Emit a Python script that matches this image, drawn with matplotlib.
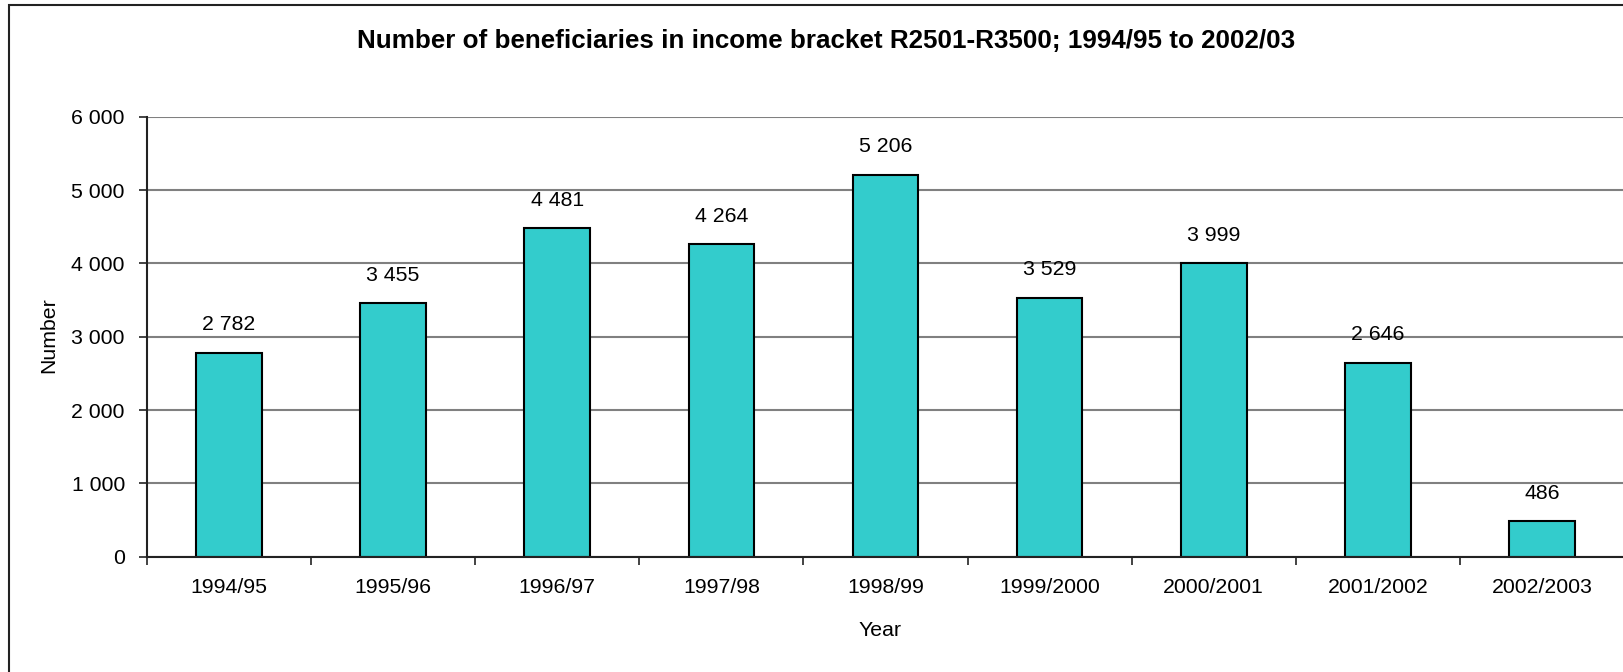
import matplotlib
matplotlib.use("Agg")
import matplotlib.pyplot as plt
from matplotlib.patches import Rectangle
from matplotlib.ticker import FuncFormatter, MultipleLocator

years = ["1994/95", "1995/96", "1996/97", "1997/98", "1998/99",
         "1999/2000", "2000/2001", "2001/2002", "2002/2003"]
beneficiaries = [2782, 3455, 4481, 4264, 5206, 3529, 3999, 2646, 486]

title = "Number of beneficiaries in income bracket R2501-R3500; 1994/95 to 2002/03"

plt.rcParams["font.family"] = ["Liberation Sans", "DejaVu Sans"]

W, H = 1624, 672
FS = 15.3
fig = plt.figure(figsize=(W / 100, H / 100), dpi=100)

# outer chart frame (runs off the right and bottom edges)
fig.patches.append(Rectangle((9 / W, -0.1), 1.2, (H - 5) / H + 0.1,
                             transform=fig.transFigure, fill=False,
                             edgecolor="#222222", linewidth=1.5))

ax = fig.add_axes([147 / W, 115.3 / H, (W - 147) / W, 440 / H])

def space_thousands(v, pos=None):
    return f"{int(v):,}".replace(",", " ")

x = list(range(len(years)))
bars = ax.bar(x, beneficiaries, width=0.40, color="#33CCCC",
              edgecolor="black", linewidth=1.5, zorder=3)

for xi, v in zip(x, beneficiaries):
    ax.annotate(space_thousands(v), (xi, v), xytext=(0, 28),
                textcoords="offset pixels", ha="center", va="center",
                fontsize=FS, color="black")

ax.set_xlim(-0.5, len(years) - 0.5)
ax.set_ylim(0, 6000)
ax.yaxis.set_major_locator(MultipleLocator(1000))
ax.yaxis.set_major_formatter(FuncFormatter(space_thousands))
ax.grid(axis="y", color="#808080", linewidth=1.5, zorder=0)

ax.set_xticks([i - 0.5 for i in range(len(years) + 1)], minor=False)
ax.set_xticklabels([])
ax.set_xticks(x, minor=True)
ax.set_xticklabels(years, minor=True)
ax.tick_params(axis="x", which="major", length=6, width=1.2, color="#222222",
               direction="out")
ax.tick_params(axis="x", which="minor", length=0, pad=15.5, labelsize=FS)
ax.tick_params(axis="y", length=6, width=1.2, color="#222222", pad=10,
               labelsize=FS)

for side in ("top", "right"):
    ax.spines[side].set_visible(False)
for side in ("left", "bottom"):
    ax.spines[side].set_color("#222222")
    ax.spines[side].set_linewidth(1.5)
    ax.spines[side].set_zorder(4)

fig.text(826.5 / W, 1 - 41 / H, title, ha="center", va="center",
         fontsize=18.7, fontweight="bold")
fig.text(48.5 / W, 1 - 335 / H, "Number", rotation=90, ha="center",
         va="center", fontsize=FS)
fig.text(880 / W, 1 - 630 / H, "Year", ha="center", va="center",
         fontsize=FS)

fig.savefig("out.png", dpi=100)
